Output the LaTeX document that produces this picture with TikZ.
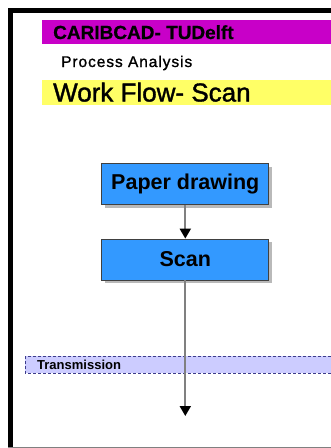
\documentclass[tikz,border=0pt]{standalone}
\usepackage{fontspec}
\setmainfont{Liberation Sans}
\usetikzlibrary{arrows.meta,shadows}
\definecolor{barmag}{RGB}{200,0,200}
\definecolor{baryel}{RGB}{255,255,102}
\definecolor{boxblue}{RGB}{51,153,255}
\definecolor{bandlav}{RGB}{204,204,255}
\definecolor{bandedge}{RGB}{60,60,140}
\begin{document}
\begin{tikzpicture}[x=1pt,y=-1pt,
  stepbox/.style={draw=black!75, line width=0.8pt, fill=boxblue,
    minimum width=167pt, minimum height=41pt, inner sep=0pt,
    font=\bfseries\fontsize{21.5}{24}\selectfont,
    drop shadow={shadow xshift=3pt, shadow yshift=-3pt, fill=gray!55, opacity=1}},
  flow/.style={draw=gray, line width=2pt,
    -{Triangle[length=10pt,width=11pt,color=black]}},
  lbl/.style={anchor=base west, inner sep=0pt}]
\useasboundingbox (0,0) rectangle (331,448);
% frame
\fill[black] (8,8) rectangle (331,12.5);
\fill[black] (8,8) rectangle (12.5,448);
\draw[gray, line width=0.8pt] (8,447) -- (331,447);
% title bars
\fill[barmag] (42,20) rectangle (331,44);
\node[lbl, font=\bfseries\fontsize{19}{22}\addfontfeature{FakeBold=0.6}\selectfont] (title) at (53,39) {CARIBCAD- TUDelft};
\node[lbl, font=\fontsize{15.5}{18}\addfontfeature{LetterSpace=6,FakeBold=1.2}\selectfont] (sub) at (61,67) {Process Analysis};
\fill[baryel] (42,80) rectangle (331,105);
\node[lbl, font=\fontsize{26}{30}\addfontfeature{FakeBold=1.4}\selectfont] (head) at (53,101.5) {Work Flow- Scan};
% transmission band
\draw[bandedge, fill=bandlav, line width=0.7pt, dash pattern=on 3pt off 2pt] (25,356) rectangle (336,373);
\node[lbl, font=\bfseries\fontsize{13}{15}\selectfont] (trans) at (37,369) {Transmission};
% process steps
\node[stepbox] (paper) at (185.3,184) {Paper drawing};
\node[stepbox] (scan) at (185.3,259.5) {Scan};
\coordinate (out) at (185.3,416);
\draw[flow] (paper.south) -- (scan.north);
\draw[flow] (scan.south) -- (out);
\end{tikzpicture}
\end{document}
